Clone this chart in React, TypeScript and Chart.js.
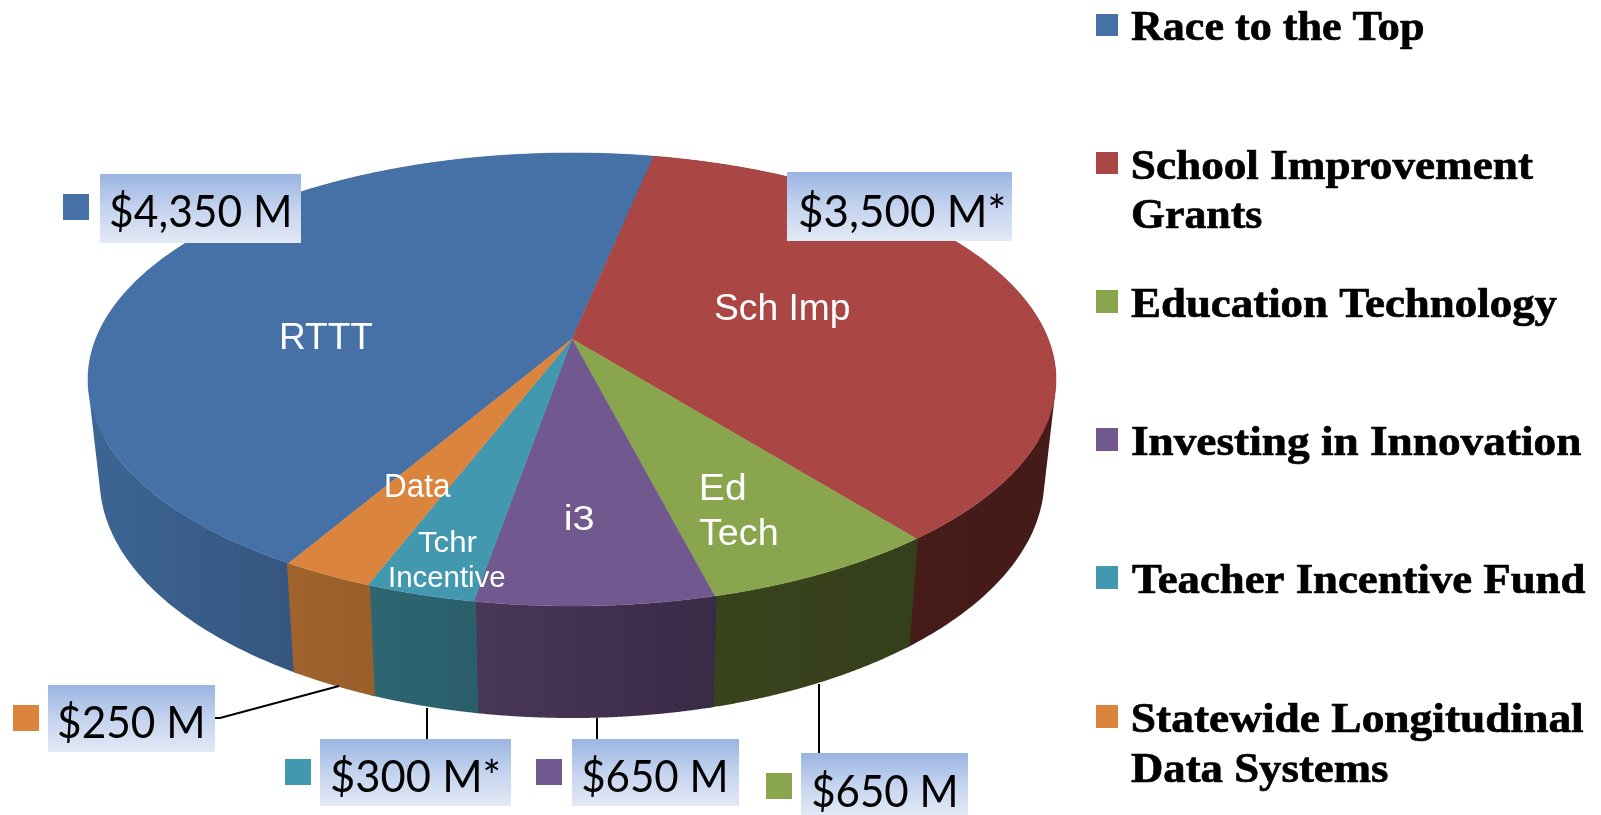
import React, { useEffect, useRef } from "react";
import { Chart, registerables } from "chart.js";

Chart.register(...registerables);

// ---------- data ----------
const categories = [
  "Race to the Top",
  "School Improvement Grants",
  "Education Technology",
  "Investing in Innovation",
  "Teacher Incentive Fund",
  "Statewide Longitudinal Data Systems",
];
const values = [4350, 3500, 650, 650, 300, 250];
const valueLabels = ["$4,350 M", "$3,500 M*", "$650 M", "$650 M", "$300 M*", "$250 M"];
const colors = ["#4571A6", "#AA4644", "#89A54E", "#71588F", "#4198AF", "#DB843D"];

// ---------- wall shading [left, right] ----------
const wallColors = [
  ["#3D6594", "#34557F"],
  ["#451C19", "#441B18"],
  ["#39431B", "#363F1C"],
  ["#493758", "#392A46"],
  ["#2E6672", "#295E6A"],
  ["#A0632D", "#9A5E2B"],
];

// ---------- projection of the unit disc ----------
const ROTATION = 210.2;
const CX = 572;
const K = 0.1788;
const TOP = { a: 476.2, b: 219.3, y: 339 };
const BOTTOM = { a: 464.8, b: 231.6, y: 436 };

// ---------- legend layout ----------
const legendLayout = [
  { sq: [1096, 14, 22, 22], lines: [{ t: "Race to the Top", x: 1131, y: 40, w: 292 }] },
  {
    sq: [1096, 152, 22, 22],
    lines: [
      { t: "School Improvement", x: 1133, y: 179, w: 400 },
      { t: "Grants", x: 1133, y: 228, w: 129 },
    ],
  },
  { sq: [1096, 290, 22, 23], lines: [{ t: "Education Technology", x: 1131, y: 317, w: 426 }] },
  { sq: [1096, 428, 22, 23], lines: [{ t: "Investing in Innovation", x: 1132, y: 455, w: 449 }] },
  { sq: [1096, 566, 22, 23], lines: [{ t: "Teacher Incentive Fund", x: 1132, y: 593, w: 453 }] },
  {
    sq: [1096, 705, 22, 23],
    lines: [
      { t: "Statewide Longitudinal", x: 1133, y: 732, w: 450 },
      { t: "Data Systems", x: 1131, y: 782, w: 257 },
    ],
  },
];

// ---------- value box layout, same order as the values ----------
const boxLayout = [
  { sq: [63, 194], box: [100, 174, 201, 69], tx: 111, ty: 227, tw: 178 },
  { sq: null, box: [787, 172, 225, 69], tx: 800, ty: 227, tw: 204 },
  { sq: [766, 773], box: [801, 753, 167, 62], tx: 813, ty: 807, tw: 142 },
  { sq: [536, 759], box: [572, 739, 167, 67], tx: 583, ty: 792, tw: 142 },
  { sq: [285, 759], box: [320, 739, 191, 67], tx: 332, ty: 792, tw: 167 },
  { sq: [13, 705], box: [48, 685, 167, 67], tx: 59, ty: 738, tw: 143 },
];

const leaderLines = [
  [[215, 718], [220, 718], [339, 686]],
  [[427, 708], [427, 739]],
  [[597, 718], [597, 739]],
  [[819, 684], [819, 753]],
];

const sliceLabels = [
  { t: "RTTT", x: 281, y: 349, w: 92, size: 36 },
  { t: "Sch Imp", x: 715, y: 320, w: 135, size: 37 },
  { t: "Data", x: 386, y: 497, w: 65, size: 33 },
  { t: "Tchr", x: 418, y: 552, w: 59, size: 30 },
  { t: "Incentive", x: 390, y: 587, w: 115, size: 30 },
  { t: "i3", x: 566, y: 530, w: 27, size: 35 },
  { t: "Ed", x: 702, y: 500, w: 43, size: 37 },
  { t: "Tech", x: 699, y: 545, w: 78, size: 37 },
];

function project(p: { a: number; b: number; y: number }, angle: number) {
  const x = Math.cos(angle);
  const y = Math.sin(angle);
  const w = 1 - K * y;
  return [CX + (p.a * x) / w, p.y + (p.b * y) / w];
}

function fitText(ctx: CanvasRenderingContext2D, t: string, x: number, y: number, w: number, bold = 0) {
  const m = ctx.measureText(t);
  const ink = m.actualBoundingBoxLeft + m.actualBoundingBoxRight;
  ctx.save();
  ctx.translate(x, y);
  ctx.scale(w / ink, 1);
  ctx.fillText(t, m.actualBoundingBoxLeft, 0);
  if (bold) {
    ctx.lineWidth = bold;
    ctx.lineJoin = "round";
    ctx.strokeStyle = ctx.fillStyle as string;
    ctx.strokeText(t, m.actualBoundingBoxLeft, 0);
  }
  ctx.restore();
}

const pie3d = {
  id: "pie3d",
  beforeDatasetsDraw(chart: any) {
    const ctx: CanvasRenderingContext2D = chart.ctx;
    const arcs = chart.getDatasetMeta(0).data;
    const STEPS = 160;
    const SEAM = 0.004;
    ctx.save();
    // side walls, drawn first, the top face then covers the back of them
    arcs.forEach((arc: any, i: number) => {
      const { startAngle, endAngle } = arc.getProps(["startAngle", "endAngle"], true);
      const a0 = startAngle - SEAM;
      const a1 = endAngle + SEAM;
      const topPts: number[][] = [];
      const botPts: number[][] = [];
      for (let s = 0; s <= STEPS; s++) {
        const t = a0 + ((a1 - a0) * s) / STEPS;
        topPts.push(project(TOP, t));
        botPts.push(project(BOTTOM, t));
      }
      const xs = topPts.concat(botPts).filter((q) => q[1] > 375).map((q) => q[0]);
      const minX = xs.length ? Math.min(...xs) : 0;
      const maxX = xs.length ? Math.max(...xs) : 1601;
      const g = ctx.createLinearGradient(minX, 0, maxX, 0);
      g.addColorStop(0, wallColors[i][0]);
      g.addColorStop(1, wallColors[i][1]);
      ctx.fillStyle = g;
      // one path of same-wound quads: their union fills the wall without seams
      ctx.beginPath();
      for (let s = 0; s < STEPS; s++) {
        const quad = [topPts[s], topPts[s + 1], botPts[s + 1], botPts[s]];
        let area = 0;
        quad.forEach((q, n) => {
          const r = quad[(n + 1) % 4];
          area += q[0] * r[1] - r[0] * q[1];
        });
        if (area < 0) quad.reverse();
        quad.forEach((q, n) => (n ? ctx.lineTo(q[0], q[1]) : ctx.moveTo(q[0], q[1])));
        ctx.closePath();
      }
      ctx.fill("nonzero");
    });
    // top face
    arcs.forEach((arc: any) => {
      const { startAngle, endAngle } = arc.getProps(["startAngle", "endAngle"], true);
      ctx.beginPath();
      ctx.moveTo(CX, TOP.y);
      for (let s = 0; s <= STEPS; s++) {
        const t = startAngle + ((endAngle - startAngle) * s) / STEPS;
        const q = project(TOP, t);
        ctx.lineTo(q[0], q[1]);
      }
      ctx.closePath();
      ctx.fillStyle = arc.options.backgroundColor;
      ctx.strokeStyle = arc.options.backgroundColor;
      ctx.lineWidth = 0.5;
      ctx.fill();
      ctx.stroke();
    });
    ctx.restore();
    return false;
  },
  afterDraw(chart: any) {
    const ctx: CanvasRenderingContext2D = chart.ctx;
    ctx.save();
    ctx.textBaseline = "alphabetic";
    ctx.textAlign = "left";

    // slice names
    ctx.fillStyle = "#FFFFFF";
    sliceLabels.forEach((l) => {
      ctx.font = `${l.size}px "Liberation Sans"`;
      fitText(ctx, l.t, l.x, l.y, l.w);
    });

    // leader lines
    ctx.strokeStyle = "#000000";
    ctx.lineWidth = 2;
    leaderLines.forEach((pts) => {
      ctx.beginPath();
      pts.forEach((p, i) => (i ? ctx.lineTo(p[0], p[1]) : ctx.moveTo(p[0], p[1])));
      ctx.stroke();
    });

    // value boxes
    boxLayout.forEach((b, i) => {
      const [x, y, w, h] = b.box;
      const g = ctx.createLinearGradient(0, y, 0, y + h);
      g.addColorStop(0, "#9AB5E2");
      g.addColorStop(0.5, "#C4D3EE");
      g.addColorStop(1, "#E3E9F6");
      ctx.fillStyle = g;
      ctx.fillRect(x, y, w, h);
      if (b.sq) {
        ctx.fillStyle = colors[i];
        ctx.fillRect(b.sq[0], b.sq[1], 26, 26);
      }
      ctx.fillStyle = "#000000";
      ctx.font = '45px "Lato"';
      fitText(ctx, valueLabels[i], b.tx, b.ty, b.tw);
    });

    // legend
    legendLayout.forEach((l, i) => {
      ctx.fillStyle = colors[i];
      ctx.fillRect(l.sq[0], l.sq[1], l.sq[2], l.sq[3]);
      ctx.fillStyle = "#000000";
      ctx.font = 'bold 42px "Liberation Serif"';
      l.lines.forEach((ln) => fitText(ctx, ln.t, ln.x, ln.y, ln.w, 0.7));
    });
    ctx.restore();
  },
};

export default function App() {
  const ref = useRef<HTMLCanvasElement | null>(null);
  useEffect(() => {
    const chart = new Chart(ref.current!, {
      type: "pie",
      data: {
        labels: categories,
        datasets: [{ data: values, backgroundColor: colors, borderWidth: 0 }],
      },
      options: {
        animation: false,
        responsive: false,
        rotation: ROTATION,
        events: [],
        layout: { padding: 0 },
        plugins: { legend: { display: false }, tooltip: { enabled: false } },
      },
      plugins: [pie3d],
    } as any);
    return () => chart.destroy();
  }, []);
  return (
    <div style={{ position: "fixed", left: 0, top: 0, width: 1601, height: 815, background: "#fff" }}>
      <canvas ref={ref} width={1601} height={815} style={{ display: "block", filter: "blur(0.35px)" }} />
    </div>
  );
}
